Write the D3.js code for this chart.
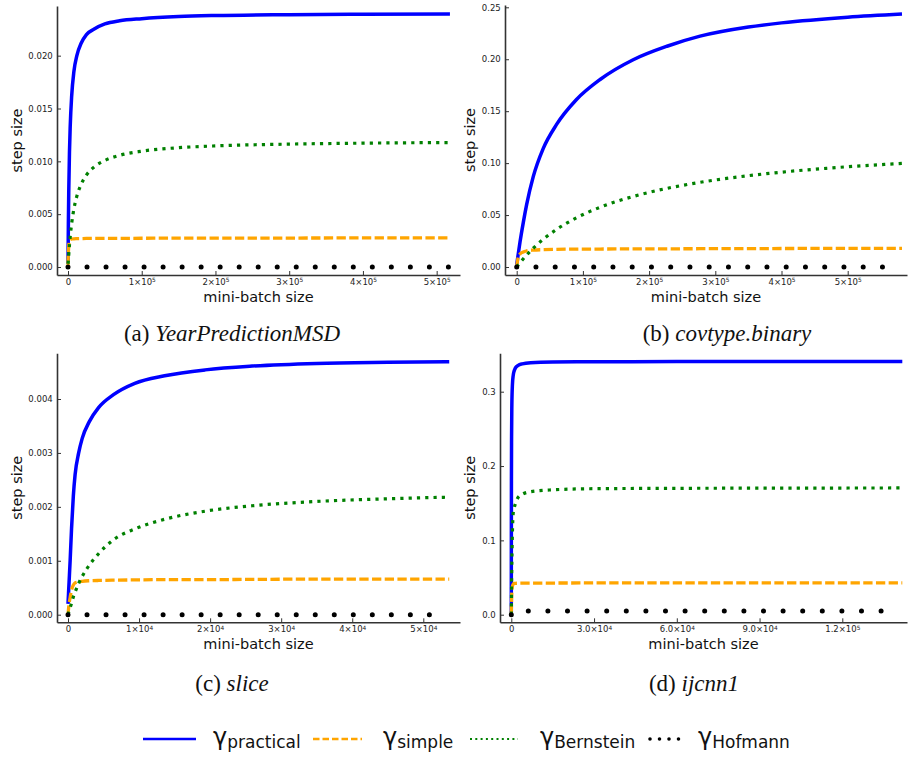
<!DOCTYPE html>
<html><head><meta charset="utf-8">
<script src="https://cdn.jsdelivr.net/npm/d3@7"></script>
<style>body{margin:0;background:#fff}</style>
</head><body>
<svg id="chart" width="908" height="760"></svg>
<script>
// ---------------- DATA ----------------
// (a) YearPredictionMSD
const aBatch      = [0, 500, 1000, 2000, 3000, 5000, 8000, 12000, 18000, 25000, 35000, 50000, 70000, 100000, 150000, 200000, 300000, 400000, 518000];
const aPractical  = [0.0003, 0.0041, 0.0070, 0.0109, 0.0133, 0.0162, 0.0185, 0.0200, 0.0212, 0.0220, 0.0225, 0.0230, 0.0233, 0.0235, 0.0237, 0.0238, 0.02388, 0.02392, 0.02395];
const aSimple     = [0.0002, 0.0013, 0.0020, 0.0025, 0.0026, 0.00265, 0.00267, 0.00268, 0.00269, 0.0027, 0.0027, 0.00271, 0.00271, 0.00272, 0.00273, 0.00273, 0.00274, 0.00275, 0.00275];
const aBernstein  = [0.0003, 0.0006, 0.00114, 0.00209, 0.00288, 0.00414, 0.00549, 0.0067, 0.00785, 0.0087, 0.00944, 0.01008, 0.01057, 0.01096, 0.01129, 0.01146, 0.01163, 0.01172, 0.01178];
const aHofBatch   = [0, 100000, 200000, 300000, 400000, 518000];
const aHofmann    = [0, 0, 0, 0, 0, 0];

// (b) covtype.binary
const bBatch      = [0, 2000, 5000, 10000, 15000, 25000, 40000, 60000, 90000, 126000, 176000, 227000, 277000, 350000, 400000, 500000, 582000];
const bPractical  = [0.002, 0.011, 0.024, 0.043, 0.060, 0.087, 0.114, 0.137, 0.161, 0.1805, 0.1995, 0.2125, 0.2222, 0.2310, 0.2350, 0.2405, 0.2435];
const bSimple     = [0.0, 0.0085, 0.0125, 0.0145, 0.0155, 0.0163, 0.0167, 0.0170, 0.0172, 0.0173, 0.0174, 0.0175, 0.0176, 0.0177, 0.0178, 0.0179, 0.0180];
const bBernstein  = [0.0, 0.00167, 0.00408, 0.00791, 0.0115, 0.01806, 0.0266, 0.03606, 0.04728, 0.0575, 0.0679, 0.0757, 0.0815, 0.0879, 0.0913, 0.0965, 0.0997];
const bHofBatch   = [0, 100000, 200000, 300000, 400000, 500000, 572000];
const bHofmann    = [0, 0, 0, 0, 0, 0, 0];

// (c) slice
const cBatch      = [0, 150, 300, 500, 750, 1000, 1500, 2000, 3000, 4300, 6400, 9400, 13600, 19300, 25900, 35000, 45000, 53650];
const cPractical  = [0.0002, 0.0006, 0.0010, 0.0016, 0.0022, 0.0026, 0.0030, 0.00327, 0.00358, 0.00384, 0.00408, 0.00429, 0.00443, 0.00454, 0.00461, 0.00466, 0.00468, 0.00469];
const cSimple     = [0.0, 0.0002, 0.00032, 0.00046, 0.00055, 0.00059, 0.00061, 0.00062, 0.00063, 0.000635, 0.00064, 0.000645, 0.00065, 0.00065, 0.000655, 0.00066, 0.00066, 0.00066];
const cBernstein  = [0.0, 0.00007, 0.00013, 0.00021, 0.00033, 0.00042, 0.00058, 0.00071, 0.00092, 0.00113, 0.00139, 0.00159, 0.00177, 0.00192, 0.00202, 0.0021, 0.00215, 0.00218];
const cHofBatch   = [0, 10000, 20000, 30000, 40000, 51500];
const cHofmann    = [0, 0, 0, 0, 0, 0];

// (d) ijcnn1
const dBatch      = [0, 10, 25, 50, 100, 200, 400, 700, 1000, 1500, 2500, 4000, 7000, 15000, 30000, 60000, 100000, 141750];
const dPractical  = [0.0, 0.066, 0.127, 0.186, 0.240, 0.282, 0.309, 0.322, 0.3275, 0.332, 0.3355, 0.3375, 0.339, 0.340, 0.3403, 0.3405, 0.3405, 0.3405];
const dSimple     = [0.0, 0.003, 0.008, 0.014, 0.022, 0.031, 0.038, 0.041, 0.042, 0.0422, 0.0424, 0.0425, 0.0425, 0.0426, 0.0427, 0.0427, 0.0427, 0.0427];
const dBernstein  = [0.0, 0.004, 0.01, 0.02, 0.04, 0.07, 0.11, 0.137, 0.143, 0.1495, 0.158, 0.162, 0.1655, 0.168, 0.1695, 0.170, 0.1703, 0.1705];
const dHofBatch   = [0, 50, 200, 1000, 10000, 50000, 100000, 139000];
const dHofmann    = [0, 0.002, 0.004, 0.005, 0.005, 0.005, 0.005, 0.005];

// ticks
const aXTicks = [0, 1e5, 2e5, 3e5, 4e5, 5e5];
const aXTickLabels = ["0", "1×10^5", "2×10^5", "3×10^5", "4×10^5", "5×10^5"];
const aYTicks = [0, 0.005, 0.010, 0.015, 0.020];
const aYTickLabels = ["0.000", "0.005", "0.010", "0.015", "0.020"];
const bXTicks = [0, 1e5, 2e5, 3e5, 4e5, 5e5];
const bXTickLabels = ["0", "1×10^5", "2×10^5", "3×10^5", "4×10^5", "5×10^5"];
const bYTicks = [0, 0.05, 0.10, 0.15, 0.20, 0.25];
const bYTickLabels = ["0.00", "0.05", "0.10", "0.15", "0.20", "0.25"];
const cXTicks = [0, 1e4, 2e4, 3e4, 4e4, 5e4];
const cXTickLabels = ["0", "1×10^4", "2×10^4", "3×10^4", "4×10^4", "5×10^4"];
const cYTicks = [0, 0.001, 0.002, 0.003, 0.004];
const cYTickLabels = ["0.000", "0.001", "0.002", "0.003", "0.004"];
const dXTicks = [0, 3e4, 6e4, 9e4, 1.2e5];
const dXTickLabels = ["0", "3.0×10^4", "6.0×10^4", "9.0×10^4", "1.2×10^5"];
const dYTicks = [0, 0.1, 0.2, 0.3];
const dYTickLabels = ["0.0", "0.1", "0.2", "0.3"];

const seriesNames = ["practical", "simple", "Bernstein", "Hofmann"];
const captionTags = ["(a)", "(b)", "(c)", "(d)"];
const captionNames = ["YearPredictionMSD", "covtype.binary", "slice", "ijcnn1"];
const xLabel = "mini-batch size";
const yLabel = "step size";

// ---------------- LAYOUT / STYLE ----------------
const FONT = "'DejaVu Sans', sans-serif";
const styles = [
  {color: "#0000ff", width: 3.5, dash: null, cap: "butt"},
  {color: "#ffa500", width: 3.3, dash: "9.3 3.4", cap: "butt"},
  {color: "#008000", width: 3.2, dash: "3.2 5.1", cap: "butt"},
  {color: "#000000", width: 5, dash: null, cap: "round"}
];
const panels = [
  {batch: aBatch, vals: [aPractical, aSimple, aBernstein], hofX: aHofBatch, hof: aHofmann,
   xt: aXTicks, xtl: aXTickLabels, yt: aYTicks, ytl: aYTickLabels,
   xr: [57, 460], x0: 68, xref: [5e5, 436.67], yr: [275, 6], y0: 267, yref: [0.02, 55.67],
   ylabX: 17.3, dotP: 19.02, cap: [232, 341]},
  {batch: bBatch, vals: [bPractical, bSimple, bBernstein], hofX: bHofBatch, hof: bHofmann,
   xt: bXTicks, xtl: bXTickLabels, yt: bYTicks, ytl: bYTickLabels,
   xr: [505, 907], x0: 516.7, xref: [5e5, 847.7], yr: [275, 5], y0: 267, yref: [0.25, 7.3],
   ylabX: 470.7, dotP: 19.25, cap: [727, 341]},
  {batch: cBatch, vals: [cPractical, cSimple, cBernstein], hofX: cHofBatch, hof: cHofmann,
   xt: cXTicks, xtl: cXTickLabels, yt: cYTicks, ytl: cYTickLabels,
   xr: [57, 460], x0: 68, xref: [5e4, 423.3], yr: [622.3, 353.3], y0: 614.7, yref: [0.004, 399],
   ylabX: 17.3, dotP: 19.02, cap: [232, 691]},
  {batch: dBatch, vals: [dPractical, dSimple, dBernstein], hofX: dHofBatch, hof: dHofmann,
   xt: dXTicks, xtl: dXTickLabels, yt: dYTicks, ytl: dYTickLabels,
   xr: [500, 907], x0: 511.3, xref: [1.2e5, 842.3], yr: [622.3, 353.3], y0: 614.7, yref: [0.3, 391.7],
   ylabX: 470.7, dotP: 19.6, cap: [694, 691]}
];

const svg = d3.select("#chart");

function fitScale(rangeFull, p0, ref) {
  const s = d3.scaleLinear().domain([0, ref[0]]).range([p0, ref[1]]);
  const dom = [s.invert(rangeFull[0]), s.invert(rangeFull[1])];
  return d3.scaleLinear().domain(dom).range(rangeFull);
}

function tickText(sel, labels, ticks) {
  sel.each(function(d) {
    const i = ticks.indexOf(d);
    const lab = labels[i];
    const t = d3.select(this).text(null);
    const parts = lab.split("^");
    t.append("tspan").text(parts[0]);
    if (parts.length > 1) {
      t.append("tspan").attr("font-size", "5.8px").attr("dy", "-0.45em").text(parts[1]);
    }
  });
}

panels.forEach((p, pi) => {
  const x = fitScale(p.xr, p.x0, p.xref);
  const y = fitScale(p.yr, p.y0, p.yref);
  const g = svg.append("g");

  // axes
  const xAxis = d3.axisBottom(x).tickValues(p.xt).tickSizeInner(-4).tickSizeOuter(0).tickPadding(4);
  const gx = g.append("g").attr("transform", `translate(0,${p.yr[0]})`).call(xAxis);
  gx.selectAll("text").attr("font-family", FONT).attr("font-size", "8.5px").attr("fill", "#222");
  tickText(gx.selectAll(".tick text"), p.xtl, p.xt);
  const yAxis = d3.axisLeft(y).tickValues(p.yt).tickSizeInner(-4).tickSizeOuter(0).tickPadding(4.3)
    .tickFormat((d, i) => p.ytl[i]);
  const gy = g.append("g").attr("transform", `translate(${p.xr[0]},0)`).call(yAxis);
  gy.selectAll("text").attr("font-family", FONT).attr("font-size", "8.5px").attr("fill", "#222");
  [gx, gy].forEach(a => {
    a.select(".domain").attr("stroke", "#333").attr("stroke-width", 1.6);
    a.selectAll(".tick line").attr("stroke", "#333").attr("stroke-width", 1);
  });

  // axis labels
  g.append("text").attr("x", (p.xr[0] + p.xr[1]) / 2).attr("y", p.yr[0] + 27)
    .attr("text-anchor", "middle").attr("font-family", FONT).attr("font-size", "14.5px")
    .attr("fill", "#111").text(xLabel);
  g.append("text")
    .attr("transform", `translate(${p.ylabX + 4.4},${(p.yr[0] + p.yr[1]) / 2}) rotate(-90)`)
    .attr("text-anchor", "middle").attr("font-family", FONT).attr("font-size", "14.5px")
    .attr("fill", "#111").text(yLabel);

  // series
  const line = d3.line().x(d => x(d[0])).y(d => y(d[1])).curve(d3.curveMonotoneX);
  p.vals.forEach((vals, si) => {
    const st = styles[si];
    const pts = p.batch.map((b, i) => [b, vals[i]]);
    g.append("path").datum(pts).attr("d", line).attr("fill", "none")
      .attr("stroke", st.color).attr("stroke-width", st.width)
      .attr("stroke-dasharray", st.dash).attr("stroke-linecap", st.cap)
      .attr("stroke-linejoin", "round");
  });
  const hpts = p.hofX.map((b, i) => [b, p.hof[i]]);
  g.append("path").datum(hpts).attr("d", line).attr("fill", "none")
    .attr("stroke", styles[3].color).attr("stroke-width", styles[3].width)
    .attr("stroke-dasharray", `0 ${p.dotP}`).attr("stroke-linecap", "round");

  // caption
  const cap = svg.append("text").attr("x", p.cap[0]).attr("y", p.cap[1])
    .attr("text-anchor", "middle").attr("font-family", "'Liberation Serif', 'Times New Roman', serif")
    .attr("font-size", "23px").attr("fill", "#111");
  cap.append("tspan").text(captionTags[pi] + " ");
  cap.append("tspan").attr("font-style", "italic").text(captionNames[pi]);
});

// legend
const legendPos = [
  {l: [143, 196], g: 213},
  {l: [313, 362], g: 383},
  {l: [470, 518], g: 540},
  {l: [650, 679], g: 698}
];
const legendDash = [null, "6.5 3", "2 3.3", "0 9.5"];
const legendWidth = [2.4, 2.4, 2.2, 3.6];
const ly = 739;
seriesNames.forEach((name, i) => {
  const lp = legendPos[i];
  svg.append("line").attr("x1", lp.l[0]).attr("x2", lp.l[1]).attr("y1", ly).attr("y2", ly)
    .attr("stroke", styles[i].color).attr("stroke-width", legendWidth[i])
    .attr("stroke-dasharray", legendDash[i]).attr("stroke-linecap", i === 3 ? "round" : "butt");
  const t = svg.append("text").attr("x", lp.g).attr("y", 745)
    .attr("font-family", FONT).attr("fill", "#111");
  t.append("tspan").attr("font-size", "24px").text("γ");
  t.append("tspan").attr("font-size", "17px").attr("dy", "3").text(name);
});
</script>
</body></html>
